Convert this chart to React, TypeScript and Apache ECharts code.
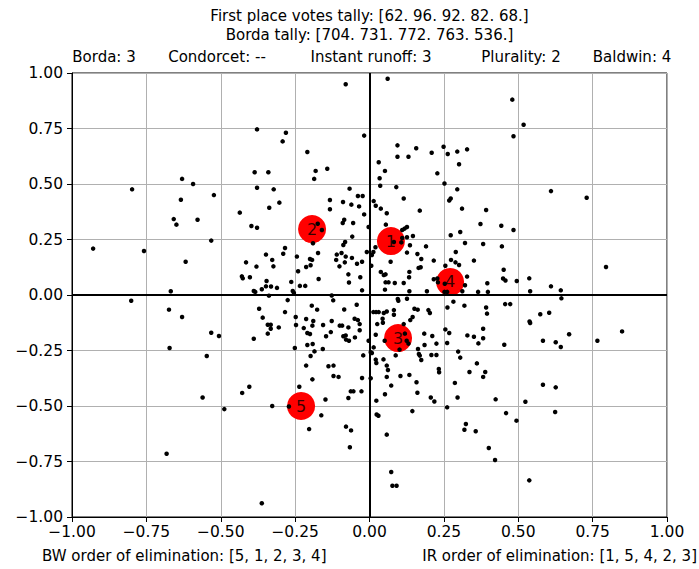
import React, { useEffect, useRef } from "react";
import * as echarts from "echarts";

const titleLines = [
  "First place votes tally: [62. 96. 92. 82. 68.]",
  "Borda tally: [704. 731. 772. 763. 536.]",
];
const winnerLabels = ["Borda: 3", "Condorcet: --", "Instant runoff: 3", "Plurality: 2", "Baldwin: 4"];
const bwOrder = "BW order of elimination: [5, 1, 2, 3, 4]";
const irOrder = "IR order of elimination: [1, 5, 4, 2, 3]";

const candidateNames = ["1", "2", "3", "4", "5"];
const candidates: number[][] = [
  [0.072, 0.243], [-0.193, 0.297], [0.096, -0.194], [0.271, 0.059], [-0.23, -0.5],
];

const voters: number[][] = [
  [-0.630,0.523],[-0.593,0.500],[-0.798,0.476],[-0.523,0.450],[-0.634,0.429],[-0.658,0.342],[-0.578,0.339],[-0.649,0.317],[-0.532,0.245],[-0.929,0.209],[-0.758,0.198],[-0.618,0.150],[-0.668,0.017],
  [-0.080,0.949],[-0.378,0.746],[-0.281,0.731],[-0.292,0.692],[-0.018,0.718],[-0.209,0.644],[-0.386,0.553],[-0.340,0.553],[-0.181,0.559],[-0.142,0.569],[-0.186,0.523],[-0.378,0.483],[-0.322,0.476],[-0.067,0.479],[-0.133,0.428],[-0.089,0.419],[-0.039,0.446],[-0.023,0.446],[-0.303,0.416],[-0.337,0.393],[-0.133,0.386],[-0.061,0.407],[-0.035,0.399],[-0.436,0.371],[-0.018,0.363],[-0.085,0.339],[-0.090,0.324],[-0.055,0.324],[-0.397,0.311],[-0.378,0.303],[-0.174,0.321],[-0.160,0.293],[-0.003,0.306],[-0.058,0.263],[-0.190,0.233],[-0.082,0.239],[-0.088,0.225],[-0.284,0.212],[-0.348,0.182],[-0.290,0.186],[-0.244,0.173],[-0.173,0.189],[-0.009,0.194],[-0.110,0.182],[-0.094,0.189],[-0.080,0.173],[-0.059,0.167],[-0.327,0.158],[-0.200,0.162],[-0.193,0.158],[-0.112,0.158],[-0.415,0.147],[-0.083,0.147],[-0.042,0.141],[-0.025,0.150],[-0.380,0.128],[-0.323,0.129],[-0.213,0.126],[-0.198,0.134],[-0.101,0.129],[-0.240,0.107],[-0.071,0.093],[-0.429,0.084],[-0.426,0.075],[-0.402,0.080],[-0.171,0.072],[-0.031,0.080],[-0.346,0.063],[-0.263,0.059],[-0.069,0.056],[-0.348,0.039],[-0.331,0.038],[-0.311,0.032],[-0.234,0.041],[-0.216,0.041],[-0.362,0.026],[-0.389,0.018],[-0.384,0.014],[-0.258,0.018],[-0.254,0.009],[-0.025,0.021],[-0.127,-0.002],[-0.338,-0.003],
  [0.061,0.974],[0.480,0.880],[0.484,0.715],[0.094,0.674],[0.157,0.661],[0.249,0.668],[0.209,0.641],[0.263,0.635],[0.295,0.646],[0.328,0.656],[0.094,0.623],[0.131,0.623],[0.031,0.598],[0.301,0.589],[0.052,0.559],[0.228,0.548],[0.034,0.526],[0.036,0.492],[0.252,0.502],[0.090,0.486],[0.295,0.476],[0.014,0.423],[0.021,0.402],[0.115,0.435],[0.268,0.426],[0.273,0.435],[0.038,0.389],[0.058,0.368],[0.169,0.380],[0.311,0.389],[0.392,0.383],[0.055,0.317],[0.373,0.320],[0.443,0.312],[0.484,0.293],[0.126,0.306],[0.118,0.299],[0.110,0.293],[0.305,0.284],[0.273,0.269],[0.146,0.266],[0.126,0.260],[0.110,0.257],[0.082,0.239],[0.107,0.237],[0.020,0.215],[0.136,0.224],[0.190,0.219],[0.321,0.234],[0.382,0.230],[0.445,0.219],[0.013,0.194],[0.008,0.180],[0.126,0.191],[0.161,0.185],[0.290,0.194],[0.174,0.162],[0.216,0.155],[0.274,0.158],[0.289,0.147],[0.301,0.135],[0.351,0.155],[0.071,0.150],[0.006,0.132],[0.255,0.132],[0.165,0.122],[0.172,0.125],[0.038,0.104],[0.134,0.104],[0.451,0.114],[0.048,0.090],[0.054,0.093],[0.133,0.080],[0.216,0.071],[0.228,0.074],[0.230,0.057],[0.328,0.083],[0.449,0.074],[0.457,0.065],[0.054,0.057],[0.064,0.057],[0.085,0.054],[0.115,0.054],[0.495,0.063],[0.253,0.051],[0.396,0.053],[0.321,0.044],[0.052,0.024],[0.134,0.017],[0.193,0.017],[0.252,0.014],[0.261,0.014],[0.312,0.017],[0.365,0.014],[0.398,0.014],
  [0.518,0.767],[0.610,0.468],[0.730,0.438],[0.795,0.126],[0.537,0.075],[0.540,0.017],[0.610,0.039],[0.643,0.021],
  [-0.801,-0.026],[-0.674,-0.066],[-0.630,-0.099],[-0.532,-0.170],[-0.506,-0.185],[-0.672,-0.239],[-0.547,-0.275],[-0.561,-0.462],[-0.682,-0.715],
  [-0.275,-0.023],[-0.122,-0.024],[-0.371,-0.062],[-0.194,-0.048],[-0.176,-0.066],[-0.085,-0.065],[-0.043,-0.044],[-0.284,-0.077],[-0.359,-0.102],[-0.248,-0.099],[-0.213,-0.108],[-0.189,-0.117],[-0.127,-0.117],[-0.050,-0.107],[-0.039,-0.113],[-0.342,-0.134],[-0.332,-0.134],[-0.332,-0.152],[-0.305,-0.146],[-0.247,-0.135],[-0.221,-0.149],[-0.192,-0.138],[-0.156,-0.135],[-0.100,-0.138],[-0.092,-0.138],[-0.071,-0.146],[-0.033,-0.131],[-0.033,-0.159],[-0.342,-0.174],[-0.209,-0.171],[-0.200,-0.176],[-0.130,-0.167],[-0.146,-0.186],[-0.088,-0.186],[-0.080,-0.182],[-0.079,-0.201],[-0.069,-0.206],[-0.049,-0.191],[-0.003,-0.206],[-0.389,-0.197],[-0.209,-0.225],[-0.191,-0.221],[-0.251,-0.239],[-0.157,-0.243],[-0.185,-0.254],[-0.198,-0.275],[-0.021,-0.272],[-0.213,-0.318],[-0.138,-0.321],[-0.121,-0.318],[-0.121,-0.365],[-0.104,-0.369],[-0.192,-0.380],[-0.025,-0.374],[-0.236,-0.413],[-0.404,-0.413],[-0.428,-0.441],[-0.063,-0.434],[-0.054,-0.434],[-0.027,-0.434],[-0.071,-0.464],[-0.148,-0.471],[-0.327,-0.500],[-0.271,-0.502],[-0.488,-0.514],[-0.162,-0.542],[-0.203,-0.604],[-0.079,-0.593],[-0.062,-0.610],[-0.066,-0.686],[-0.362,-0.938],
  [0.095,-0.018],[0.097,-0.026],[0.126,-0.017],[0.262,-0.056],[0.282,-0.030],[0.319,-0.048],[0.392,-0.056],[0.395,-0.084],[0.456,-0.041],[0.473,-0.041],[0.013,-0.077],[0.022,-0.077],[0.031,-0.077],[0.048,-0.081],[0.058,-0.074],[0.082,-0.068],[0.082,-0.089],[0.151,-0.062],[0.162,-0.066],[0.198,-0.068],[0.203,-0.081],[0.044,-0.107],[0.045,-0.125],[0.026,-0.131],[0.145,-0.099],[0.137,-0.113],[0.115,-0.131],[0.255,-0.155],[0.268,-0.171],[0.382,-0.152],[0.021,-0.179],[0.051,-0.206],[0.119,-0.174],[0.125,-0.206],[0.131,-0.219],[0.184,-0.174],[0.211,-0.185],[0.185,-0.225],[0.225,-0.219],[0.261,-0.216],[0.329,-0.182],[0.351,-0.188],[0.366,-0.218],[0.382,-0.195],[0.453,-0.224],[0.014,-0.236],[0.004,-0.258],[0.008,-0.261],[0.101,-0.246],[0.088,-0.272],[0.163,-0.243],[0.166,-0.266],[0.169,-0.273],[0.208,-0.270],[0.225,-0.270],[0.174,-0.293],[0.298,-0.255],[0.305,-0.282],[0.021,-0.291],[0.023,-0.306],[0.047,-0.290],[0.058,-0.318],[0.062,-0.338],[0.361,-0.308],[0.233,-0.333],[0.234,-0.348],[0.104,-0.365],[0.134,-0.360],[0.058,-0.369],[0.336,-0.347],[0.389,-0.347],[0.382,-0.369],[0.004,-0.375],[0.158,-0.393],[0.287,-0.396],[0.073,-0.408],[0.161,-0.440],[0.052,-0.447],[0.206,-0.462],[0.218,-0.480],[0.296,-0.462],[0.424,-0.470],[0.023,-0.476],[0.261,-0.506],[0.144,-0.523],[0.024,-0.538],[0.030,-0.544],[0.459,-0.532],[0.494,-0.566],[0.324,-0.581],[0.319,-0.607],[0.357,-0.614],[0.058,-0.629],[0.401,-0.689],[0.422,-0.743],[0.073,-0.797],[0.077,-0.859],[0.091,-0.859],
  [0.645,-0.015],[0.574,-0.087],[0.604,-0.080],[0.538,-0.119],[0.540,-0.126],[0.671,-0.177],[0.849,-0.164],[0.583,-0.206],[0.626,-0.213],[0.643,-0.234],[0.766,-0.206],[0.583,-0.404],[0.626,-0.416],[0.524,-0.481],[0.624,-0.527],[0.537,-0.835],
];

const FONT = "'DejaVu Sans', sans-serif";
const fmt = (v: number) => v.toFixed(2).replace("-", "\u2212");

export default function App() {
  const ref = useRef<HTMLDivElement>(null);
  useEffect(() => {
    if (!ref.current) return;
    const chart = echarts.init(ref.current, null, { renderer: "svg" });
    const winnerX = [104, 217, 371, 521, 632];
    const txt = (text: string, x: number, y: number, align = "center") => ({
      type: "text",
      x,
      y,
      style: {
        text,
        fill: "#000",
        font: `15px ${FONT}`,
        align,
        verticalAlign: "middle",
        textAlign: align,
        textVerticalAlign: "middle",
      },
    });
    chart.setOption({
      animation: false,
      backgroundColor: "#fff",
      grid: { left: 72, right: 32, top: 73, bottom: 52, show: true, borderColor: "#000", borderWidth: 1, backgroundColor: "transparent" },
      xAxis: {
        type: "value", min: -1, max: 1, interval: 0.25,
        axisLine: { show: true, onZero: false, lineStyle: { color: "#000", width: 1 } },
        axisTick: { show: true, inside: false, length: 5, lineStyle: { color: "#000" } },
        axisLabel: { formatter: fmt, color: "#000", fontSize: 15.5, fontFamily: FONT, margin: 7 },
        splitLine: { show: true, lineStyle: { color: "#b0b0b0", width: 1 } },
      },
      yAxis: {
        type: "value", min: -1, max: 1, interval: 0.25,
        axisLine: { show: true, onZero: false, lineStyle: { color: "#000", width: 1 } },
        axisTick: { show: true, inside: false, length: 5, lineStyle: { color: "#000" } },
        axisLabel: { formatter: fmt, color: "#000", fontSize: 15.5, fontFamily: FONT, margin: 9 },
        splitLine: { show: true, lineStyle: { color: "#b0b0b0", width: 1 } },
      },
      graphic: [
        txt(titleLines[0], 369.5, 16),
        txt(titleLines[1], 369.5, 35),
        ...winnerLabels.map((t, i) => txt(t, winnerX[i], 57)),
        txt(bwOrder, 42, 556, "left"),
        txt(irOrder, 697, 556, "right"),
      ],
      series: [
        {
          type: "scatter",
          z: 2,
          symbolSize: 28,
          itemStyle: { color: "#ff0000", opacity: 1 },
          data: candidates,
          silent: true,
          markLine: {
            silent: true,
            symbol: "none",
            label: { show: false },
            lineStyle: { color: "#000", width: 2, type: "solid" },
            data: [{ xAxis: 0 }, { yAxis: 0 }],
          },
        },
        {
          type: "scatter",
          z: 3,
          symbolSize: 4.5,
          itemStyle: { color: "#000", opacity: 1 },
          data: voters,
          silent: true,
        },
        {
          type: "scatter",
          z: 4,
          symbolSize: 1,
          itemStyle: { color: "rgba(0,0,0,0)" },
          data: candidates.map((c, i) => ({ value: c, name: candidateNames[i] })),
          label: { show: true, position: "inside", formatter: (p: any) => p.name, color: "#000", fontSize: 16, fontFamily: FONT },
          silent: true,
        },
      ],
    });
    return () => chart.dispose();
  }, []);
  return <div ref={ref} style={{ position: "absolute", left: 0, top: 0, width: 699, height: 569 }} />;
}
